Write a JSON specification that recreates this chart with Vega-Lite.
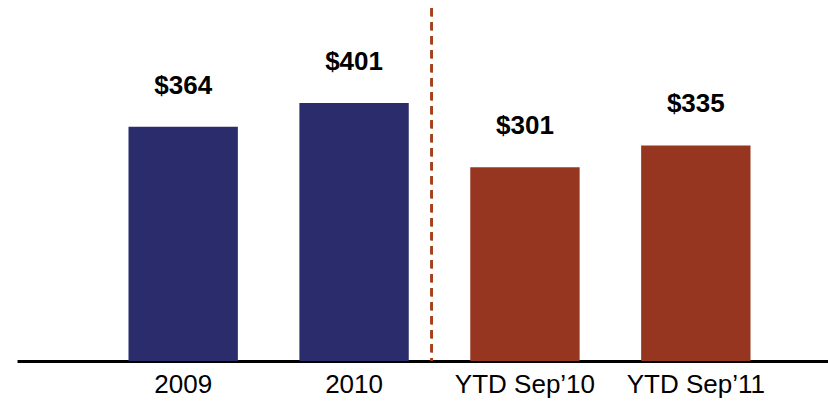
{
  "$schema": "https://vega.github.io/schema/vega-lite/v6.json",
  "autosize": "none",
  "width": 811,
  "height": 361,
  "padding": {"left": 17, "top": 0, "right": 0, "bottom": 43},
  "background": "white",
  "config": {"view": {"stroke": null}, "font": "Liberation Sans"},
  "data": {"values": [
    {"period": "2009", "value": 364, "label": "$364", "group": "annual"},
    {"period": "2010", "value": 401, "label": "$401", "group": "annual"},
    {"period": "YTD Sep’10", "value": 301, "label": "$301", "group": "ytd"},
    {"period": "YTD Sep’11", "value": 335, "label": "$335", "group": "ytd"}
  ]},
  "encoding": {
    "x": {"field": "period", "type": "nominal", "sort": null,
      "scale": {"paddingInner": 0.36, "paddingOuter": 0.553, "align": 0.59},
      "axis": {"title": null, "labelAngle": 0, "labelFontSize": 26, "labelColor": "black", "labelPadding": 10,
        "ticks": false, "domainColor": "black", "domainWidth": 3, "labelFont": "Liberation Sans"}}
  },
  "layer": [
    {
      "mark": {"type": "bar"},
      "encoding": {
        "y": {"field": "value", "type": "quantitative", "scale": {"domain": [0, 561], "nice": false}, "axis": null},
        "color": {"field": "group", "type": "nominal", "scale": {"domain": ["annual", "ytd"], "range": ["#2b2c6b", "#963620"]}, "legend": null}
      }
    },
    {
      "mark": {"type": "text", "fontSize": 26, "fontWeight": "bold", "dy": -41, "baseline": "middle", "color": "black"},
      "encoding": {
        "y": {"field": "value", "type": "quantitative"},
        "text": {"field": "label"}
      }
    },
    {
      "mark": {"type": "rule", "color": "#a5401a", "strokeWidth": 2.5, "strokeDash": [8, 6], "xOffset": 23},
      "encoding": {
        "x": {"datum": "2010", "bandPosition": 1},
        "y": {"datum": 548},
        "y2": {"datum": 0}
      }
    }
  ]
}
